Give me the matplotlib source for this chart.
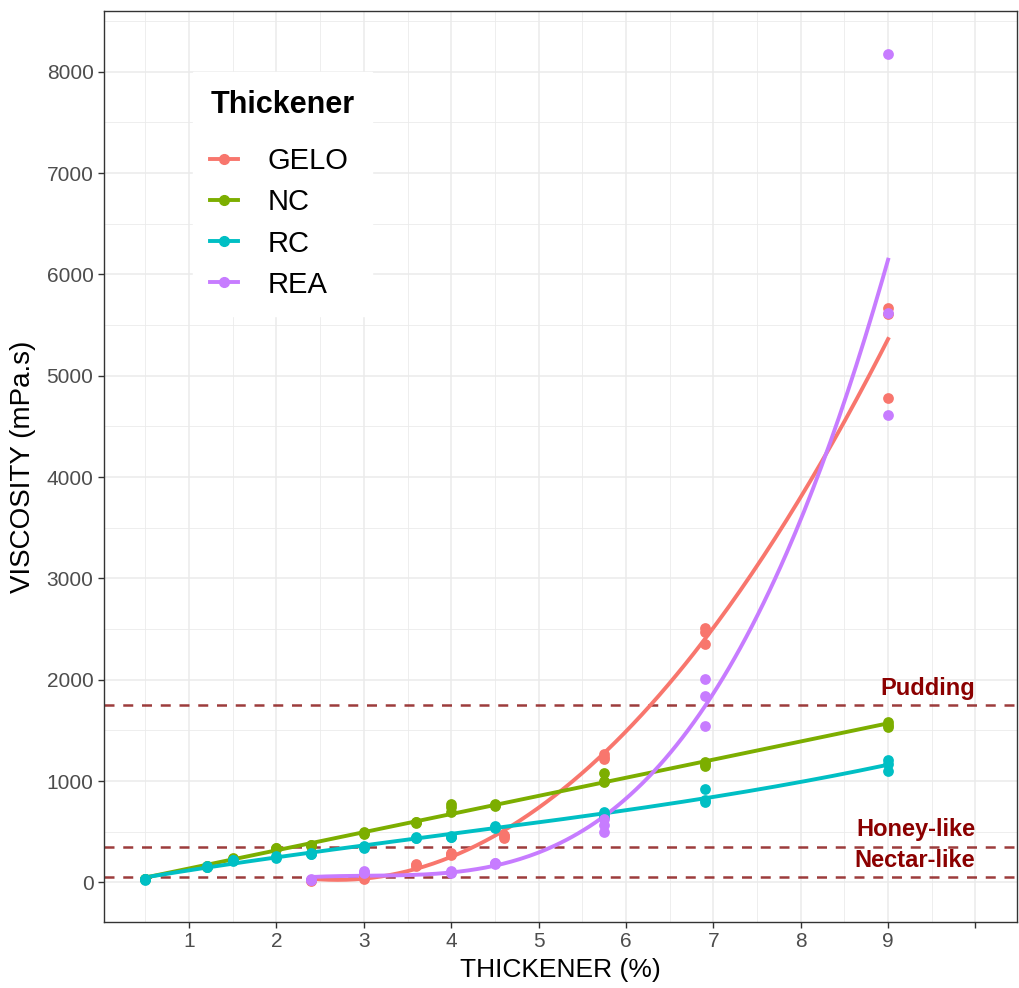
import matplotlib.pyplot as plt
import numpy as np
from matplotlib.lines import Line2D

plt.rcParams['font.family'] = ['Liberation Sans', 'DejaVu Sans']

# --- data (3 replicates per concentration) ----------------------------------
nc_x = [0.5, 1.2, 1.5, 2, 2.4, 3, 3.6, 4, 4.5, 5.75, 6.9, 9]
nc_y = [[30, 32, 35], [150, 160, 165], [225, 235, 240], [330, 340, 345],
        [360, 367, 372], [475, 485, 495], [585, 595, 600], [700, 745, 770],
        [750, 760, 770], [990, 1000, 1080], [1150, 1170, 1190], [1530, 1550, 1580]]

rc_x = [0.5, 1.2, 1.5, 2, 2.4, 3, 3.6, 4, 4.5, 5.75, 6.9, 9]
rc_y = [[28, 30, 33], [150, 155, 160], [215, 220, 225], [245, 252, 258],
        [280, 285, 290], [345, 352, 358], [435, 442, 450], [445, 452, 460],
        [540, 550, 560], [650, 680, 700], [795, 810, 925], [1100, 1170, 1205]]

gelo_x = [2.4, 3, 3.6, 4, 4.6, 5.75, 6.9, 9]
gelo_y = [[15, 20, 25], [35, 45, 55], [160, 170, 180], [275, 285, 290],
          [440, 455, 465], [1220, 1240, 1270], [2350, 2470, 2515], [4780, 5610, 5670]]

rea_x = [2.4, 3, 4, 4.5, 5.75, 6.9, 9]
rea_y = [[20, 28, 35], [90, 100, 110], [95, 105, 115], [180, 190, 195],
         [500, 565, 630], [1545, 1840, 2005], [4610, 5620, 8180]]

series = [('GELO', gelo_x, gelo_y, '#F8766D', 2),
          ('NC', nc_x, nc_y, '#7CAE00', 1),
          ('RC', rc_x, rc_y, '#00BFC4', 3),
          ('REA', rea_x, rea_y, '#C77CFF', 3)]

levels = [50, 350, 1750]
level_names = ['Nectar-like', 'Honey-like', 'Pudding']
x_ticks = [1, 2, 3, 4, 5, 6, 7, 8, 9, 10]
x_ticklabels = ['1', '2', '3', '4', '5', '6', '7', '8', '9', '']
y_ticks = [0, 1000, 2000, 3000, 4000, 5000, 6000, 7000, 8000]

# ---------------------------------------------------------------------------
fig = plt.figure(figsize=(10.19, 9.88), dpi=100)
ax = fig.add_axes([0.102, 0.0668, 0.896, 0.9221])

for name, xs, ys, col, deg in series:
    xx = np.repeat(xs, 3)
    yy = np.concatenate([np.asarray(v, float) for v in ys])
    coef = np.polyfit(xx, yy, deg)
    xf = np.linspace(min(xs), max(xs), 200)
    ax.plot(xf, np.polyval(coef, xf), color=col, lw=2.8, zorder=3)
    ax.scatter(xx, yy, s=60, color=col, zorder=4, linewidths=0)

for lv, nm in zip(levels, level_names):
    ax.axhline(lv, color='#8B1A1A', ls=(0, (4, 3.5)), lw=1.8, alpha=0.85, zorder=2)
    ax.text(10.0, lv + 55, nm, ha='right', va='bottom', fontsize=17,
            color='#8B0000', fontweight='bold', zorder=5)

ax.set_xlim(0.025, 10.475)
ax.set_ylim(-390, 8600)
ax.set_xticks(x_ticks)
ax.set_xticklabels(x_ticklabels)
ax.set_xticks(np.arange(0.5, 10.5, 1.0), minor=True)
ax.set_yticks(y_ticks)
ax.set_yticks(np.arange(500, 8600, 1000), minor=True)

ax.grid(which='major', color='#EBEBEB', lw=1.1, zorder=0)
ax.grid(which='minor', color='#EBEBEB', lw=0.6, zorder=0)
ax.set_axisbelow(True)
ax.tick_params(which='major', length=4.5, width=1, color='#333333',
               labelsize=15, labelcolor='#4D4D4D', pad=3)
ax.tick_params(which='minor', length=0)
for sp in ax.spines.values():
    sp.set_color('#333333')
    sp.set_linewidth(1.0)

ax.set_xlabel('THICKENER (%)', fontsize=19, labelpad=5)
ax.set_ylabel('VISCOSITY (mPa.s)', fontsize=20, labelpad=8)

handles = [Line2D([0], [0], color=c, lw=2.8, marker='o', markersize=7)
           for _, _, _, c, _ in series]
leg = ax.legend(handles, [s[0] for s in series], title='Thickener',
                loc='upper left', bbox_to_anchor=(0.0975, 0.933),
                fontsize=21, title_fontproperties={'weight': 'bold', 'size': 22},
                frameon=True, fancybox=False, edgecolor='white', framealpha=1,
                handlelength=0.95, handletextpad=1.0, labelspacing=0.45,
                borderpad=0.6, borderaxespad=0)
leg._legend_box.align = 'left'
leg._legend_box.sep = 20  # extra room under the title, as in the reference

fig.savefig('out.png', dpi=100)
